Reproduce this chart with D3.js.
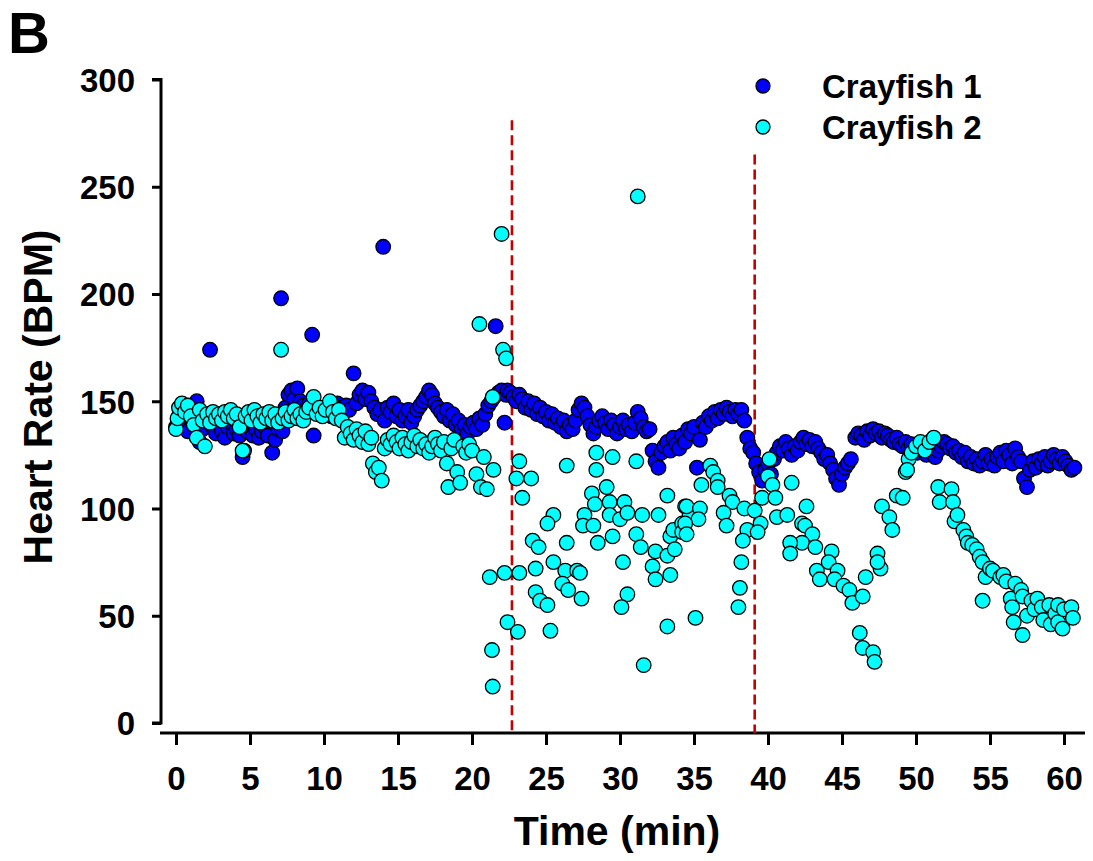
<!DOCTYPE html>
<html>
<head>
<meta charset="utf-8">
<script src="https://cdn.jsdelivr.net/npm/d3@7/dist/d3.min.js"></script>
<style>
  html, body { margin: 0; padding: 0; background: #fff; }
  svg { display: block; }
  text { font-family: Arial, "Liberation Sans", Helvetica, sans-serif; font-weight: bold; fill: #000; }
</style>
</head>
<body>
<svg id="chart" width="1093" height="861"></svg>
<script>
// Heart rate recordings, [time (min), beats per minute]
const seriesNames = ["Crayfish 1", "Crayfish 2"];
const seriesColors = ["#0000ff", "#00ffff"];

const crayfish1 = [
  [0.0,138],[0.2,143],[0.4,145],[0.6,140],[0.8,136],[1.0,142],[1.2,146],[1.4,150],[1.5,139],[1.6,131],[1.8,137],[2.0,141],
  [2.3,174],[2.5,138],[2.7,135],[2.9,139],[3.1,136],[3.3,133],[3.5,138],[3.7,140],[3.9,135],[4.1,137],[4.3,134],
  [4.5,124],[4.6,127],[4.8,136],[5.0,139],[5.2,134],[5.4,137],[5.6,133],[5.8,136],[6.0,138],[6.2,134],[6.5,126],
  [6.7,132],[6.9,137],[7.1,198],[7.2,136],[7.4,147],[7.6,153],[7.8,155],[8.0,151],[8.2,156],[8.4,150],[8.6,148],
  [8.8,146],[9.0,149],[9.2,181],[9.3,134],[9.5,146],[9.7,144],[9.9,147],[10.1,145],[10.3,148],[10.5,143],[10.7,146],
  [10.9,149],[11.1,147],[11.3,145],[11.5,148],[11.7,146],[12.0,163],[12.2,149],[12.4,153],[12.6,155],[12.8,151],
  [13.0,154],[13.2,150],[13.4,147],[13.6,144],[13.8,146],[14.0,222],[14.1,141],[14.3,147],[14.5,145],[14.7,149],
  [14.9,143],[15.1,146],[15.3,141],[15.5,143],[15.7,146],[15.9,140],[16.1,143],[16.3,146],[16.5,148],[16.7,150],
  [16.9,152],[17.1,155],[17.3,153],[17.5,149],[17.7,147],[17.9,145],[18.1,143],[18.3,146],[18.5,141],[18.7,144],
  [18.9,139],[19.1,141],[19.3,137],[19.5,139],[19.7,135],[19.9,138],[20.1,140],[20.3,137],[20.5,142],[20.7,139],
  [20.9,144],[21.1,148],[21.3,150],[21.5,152],[21.6,185],[21.8,154],[22.0,155],[22.2,140],[22.3,153],[22.4,155],
  [22.6,154],[22.8,152],[23.0,150],[23.2,153],[23.4,151],[23.6,147],[23.8,150],[24.0,146],[24.2,149],[24.4,144],
  [24.6,147],[24.8,143],[25.0,145],[25.2,141],[25.4,144],[25.6,140],[25.8,142],[26.0,138],[26.2,141],[26.4,136],
  [26.6,139],[26.8,137],[27.0,141],[27.2,146],[27.4,149],[27.6,147],[27.8,143],[28.0,139],[28.2,135],[28.4,138],
  [28.6,141],[28.8,143],[29.0,140],[29.2,137],[29.4,141],[29.6,139],[29.8,135],[30.0,138],[30.2,141],[30.4,137],
  [30.6,139],[30.8,136],[31.0,140],[31.2,145],[31.4,142],[31.6,138],[31.8,136],[32.0,137],[32.2,127],[32.4,122],
  [32.6,119],[32.8,126],[33.0,129],[33.2,131],[33.4,127],[33.6,133],[33.8,130],[34.0,128],[34.2,134],[34.4,131],
  [34.6,137],[34.8,135],[35.0,138],[35.2,119],[35.4,132],[35.6,140],[35.8,138],[36.0,143],[36.2,141],[36.4,145],
  [36.6,142],[36.8,146],[37.0,144],[37.2,147],[37.4,145],[37.6,143],[37.8,146],[38.0,144],[38.2,146],[38.4,141],
  [38.6,133],[38.8,128],[39.0,126],[39.2,121],[39.4,117],[39.6,113],[39.8,118],[40.0,121],[40.2,116],[40.4,123],
  [40.6,126],[40.8,129],[41.0,127],[41.2,131],[41.4,128],[41.6,125],[41.8,129],[42.0,127],[42.2,131],[42.4,133],
  [42.6,130],[42.8,132],[43.0,129],[43.2,131],[43.4,128],[43.6,126],[43.8,123],[44.0,125],[44.2,121],[44.4,118],
  [44.6,114],[44.8,111],[45.0,116],[45.2,119],[45.4,121],[45.6,123],[45.9,133],[46.1,135],[46.3,134],[46.5,132],
  [46.7,136],[46.9,134],[47.1,137],[47.3,135],[47.5,136],[47.7,133],[47.9,135],[48.1,134],[48.3,132],[48.5,131],
  [48.7,133],[48.9,130],[49.1,129],[49.3,131],[49.5,128],[49.7,130],[49.9,127],[50.1,126],[50.3,129],[50.5,127],
  [50.7,125],[50.9,128],[51.1,126],[51.3,124],[51.5,127],[51.7,129],[51.9,131],[52.1,130],[52.3,128],[52.5,129],
  [52.7,126],[52.9,127],[53.1,124],[53.3,126],[53.5,122],[53.7,124],[53.9,121],[54.1,123],[54.3,120],[54.5,122],
  [54.7,125],[54.9,121],[55.1,123],[55.3,120],[55.5,124],[55.7,126],[55.9,122],[56.1,127],[56.3,125],[56.5,121],
  [56.7,128],[56.9,124],[57.1,122],[57.3,114],[57.5,110],[57.7,118],[57.9,122],[58.1,119],[58.3,123],[58.5,121],
  [58.7,124],[58.9,120],[59.1,122],[59.3,125],[59.5,123],[59.7,121],[59.9,124],[60.1,122],[60.3,120],[60.5,118],
  [60.7,119]
];

const crayfish2 = [
  [0.0,137],[0.1,142],[0.2,147],[0.4,149],[0.6,145],[0.8,148],[1.0,143],[1.2,139],[1.4,133],[1.6,146],[1.8,141],
  [1.95,129],[2.1,144],[2.3,140],[2.5,145],[2.7,142],[2.9,144],[3.1,141],[3.3,145],[3.5,143],[3.7,146],[3.9,142],
  [4.1,144],[4.3,138],[4.5,127],[4.7,143],[4.9,145],[5.1,141],[5.3,146],[5.5,143],[5.7,140],[5.9,144],[6.1,142],
  [6.3,145],[6.5,141],[6.7,144],[6.9,140],[7.1,174],[7.2,142],[7.4,145],[7.6,141],[7.8,143],[8.0,146],[8.2,142],
  [8.4,144],[8.6,141],[8.8,145],[9.0,147],[9.3,152],[9.5,144],[9.7,147],[9.9,143],[10.1,146],[10.4,150],[10.6,145],
  [10.8,142],[11.0,146],[11.2,141],[11.4,133],[11.6,138],[11.8,135],[12.0,132],[12.2,137],[12.4,134],[12.6,131],
  [12.8,136],[13.0,130],[13.2,133],[13.3,121],[13.5,117],[13.7,119],[13.9,113],[14.1,128],[14.3,132],[14.5,130],
  [14.7,134],[14.9,131],[15.1,128],[15.3,133],[15.5,130],[15.7,127],[15.9,131],[16.1,134],[16.3,129],[16.5,132],
  [16.7,128],[16.9,130],[17.1,126],[17.3,129],[17.5,133],[17.7,130],[17.9,127],[18.1,131],[18.3,121],[18.4,110],
  [18.6,128],[18.8,132],[19.0,117],[19.2,112],[19.4,129],[19.6,126],[19.8,130],[20.0,127],[20.3,116],[20.5,186],
  [20.6,110],[20.8,124],[21.0,109],[21.2,68],[21.35,34],[21.4,17],[21.4,152],[21.45,118],[22.0,228],[22.1,174],
  [22.3,170],[22.2,70],[22.4,47],[23.1,42.5],[23.2,70],[24.3,72],[23.2,122],[23.0,114],[24.0,114],[23.4,105],
  [24.1,85],[24.5,82],[24.3,61],[24.6,57],[25.1,55],[25.5,97],[25.1,93],[26.4,84],[26.4,120],[28.4,126],[28.4,118],
  [29.5,124],[31.1,122],[28.1,107],[28.3,102],[29.1,110],[27.6,97],[27.5,92],[28.2,92],[29.3,103],[29.3,97],
  [30.0,95],[30.3,103],[30.5,98],[31.5,97],[29.5,87],[28.5,84],[31.1,88],[31.4,82],[32.6,97],[33.2,106],[32.4,80],
  [33.2,78],[33.4,87],[33.6,90],[32.2,73],[32.4,67],[33.4,69],[34.2,93],[34.2,89],[34.4,101],[30.2,75],[30.5,60],
  [30.1,54],[33.2,45],[31.6,27],[25.5,75],[26.3,71],[27.1,71],[27.3,70],[26.1,65],[26.5,62],[27.4,58],[25.3,43],
  [31.2,245.5],[33.7,81],[34.7,97],
  [36.1,120],[36.3,117],[36.6,113],[36.6,110],[35.5,111],[34.5,101],[35.4,100],[35.3,95],[34.4,93],[34.5,88],
  [37.4,106],[37.6,103],[37.0,98],[37.2,92],[38.4,100],[38.6,90],[38.3,85],[39.1,99],[39.5,93],[39.3,89],
  [38.2,75],[38.1,63],[38.0,54],[35.1,49],
  [40.1,123],[40.0,115],[40.3,111],[39.6,105],[40.5,105],[41.6,112],[40.6,96],[41.3,97],[42.6,101],[42.3,93],
  [42.5,92],[43.0,88],[42.3,84],[41.5,84],[41.5,79],[43.2,82],[44.3,80],[44.1,75],[44.7,71],[43.3,71],[43.5,67],
  [44.5,67],[45.1,64],[45.5,62],[45.7,56],[46.6,68],[46.4,59],[46.2,42],[46.4,35],[47.1,33],[47.2,28.5],[47.4,79],
  [47.6,72],[47.4,75],[47.7,101],[48.2,96],[48.4,90],[48.7,106],[49.1,105],[49.3,117],[49.5,123],[49.7,126],
  [50.0,129],[50.3,131],[49.4,118],[50.6,127],[50.9,131],[51.2,133],[51.5,110],[52.4,109],[51.6,103],[52.5,103],
  [52.6,94],[52.8,97],[53.2,90],[53.4,87],[53.5,84],[53.8,83],[54.1,81],[54.3,77.5],[54.5,75],[54.7,68],[55.0,72],
  [55.2,71],[55.7,68],[55.9,69],[56.1,66],[56.7,65],[54.5,57],[56.4,58],[56.5,54],[56.6,47],[57.2,41],[57.1,62],
  [57.2,59],[57.5,50],[57.8,57],[58.0,53],[58.2,58],[58.5,54],[58.6,48],[59.0,55],[59.1,46],[59.4,51],[59.6,55],
  [59.6,47],[59.9,44],[60.0,53],[60.5,54],[60.6,49]
];

// Vertical markers for the two treatment times, [time, top of line in BPM]
const treatmentLines = [[22.7, 281], [39.1, 265]];

const timeTicks = [0, 5, 10, 15, 20, 25, 30, 35, 40, 45, 50, 55, 60];
const rateTicks = [0, 50, 100, 150, 200, 250, 300];

const svg = d3.select("#chart");

const x = d3.scaleLinear().domain([0, 60]).range([176, 1064]);
const y = d3.scaleLinear().domain([0, 300]).range([723, 79.5]);

// Panel letter
svg.append("text").attr("x", 8).attr("y", 53).style("font-size", "58px").text("B");

// Y axis
const yAxis = d3.axisLeft(y).tickValues(rateTicks).tickSize(9).tickPadding(17).tickFormat(d3.format("d"));
const yg = svg.append("g").attr("transform", "translate(161,0)").call(yAxis);
yg.select(".domain").attr("d", `M-9,${y(300)}H0V${y(0)}H-9`).attr("stroke-width", 3).attr("stroke", "#000");
yg.selectAll(".tick line").attr("stroke-width", 3).attr("stroke", "#000");
yg.selectAll(".tick text").style("font-size", "33px").style("font-family", "Arial, 'Liberation Sans', sans-serif")
  .style("font-weight", "bold").attr("dy", "0.36em");

// X axis, set slightly below the plotting area
const xAxis = d3.axisBottom(x).tickValues(timeTicks).tickSize(12).tickPadding(22);
const xg = svg.append("g").attr("transform", "translate(0,733)").call(xAxis);
xg.select(".domain").attr("d", "M160,0H1085").attr("stroke-width", 3).attr("stroke", "#000");
xg.selectAll(".tick line").attr("stroke-width", 3).attr("stroke", "#000");
xg.selectAll(".tick text").style("font-size", "33px").style("font-family", "Arial, 'Liberation Sans', sans-serif")
  .style("font-weight", "bold");

// Treatment markers
svg.append("g").selectAll("line").data(treatmentLines).join("line")
  .attr("x1", d => x(d[0])).attr("x2", d => x(d[0]))
  .attr("y1", d => y(d[1])).attr("y2", 733)
  .attr("stroke", "#c40000").attr("stroke-width", 2.6).attr("stroke-dasharray", "10,5");

// Data points
[crayfish1, crayfish2].forEach((pts, i) => {
  svg.append("g").selectAll("circle").data(pts).join("circle")
    .attr("cx", d => x(d[0])).attr("cy", d => y(d[1])).attr("r", 7.3)
    .attr("fill", seriesColors[i]).attr("stroke", "#000").attr("stroke-width", 1.3);
});

// Axis titles
svg.append("text").attr("x", 617).attr("y", 845).attr("text-anchor", "middle")
  .style("font-size", "41px").text("Time (min)");
svg.append("text").attr("transform", "translate(52,397) rotate(-90)").attr("text-anchor", "middle")
  .style("font-size", "41px").text("Heart Rate (BPM)");

// Legend
const legend = svg.append("g");
seriesNames.forEach((name, i) => {
  const ly = 86 + i * 41;
  legend.append("circle").attr("cx", 763).attr("cy", ly).attr("r", 7)
    .attr("fill", seriesColors[i]).attr("stroke", "#000").attr("stroke-width", 1.3);
  legend.append("text").attr("x", 822).attr("y", ly).attr("dy", "0.36em")
    .style("font-size", "33px").text(name);
});
</script>
</body>
</html>
